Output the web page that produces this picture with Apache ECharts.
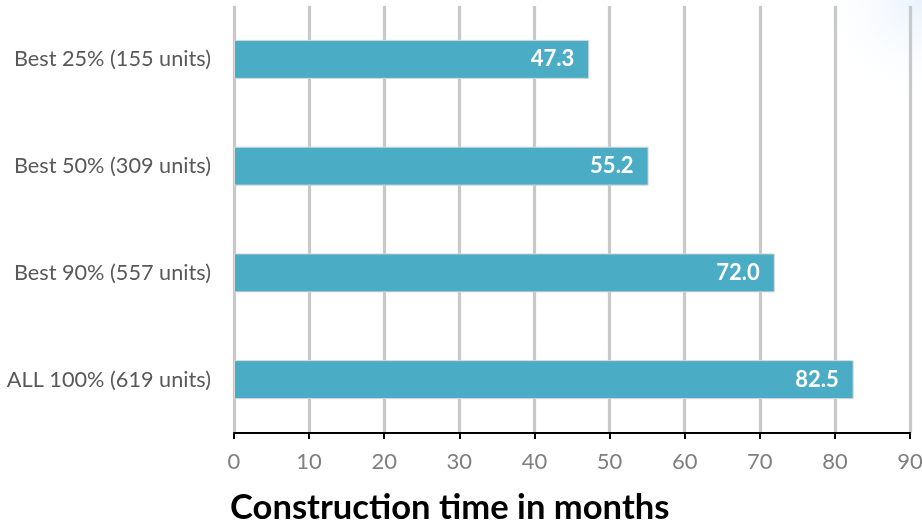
<!DOCTYPE html>
<html><head><meta charset="utf-8">
<script src="https://cdn.jsdelivr.net/npm/echarts@6/dist/echarts.min.js"></script>
<style>html,body{margin:0;padding:0;background:#fff}#c{width:922px;height:523px}</style>
</head><body><div id="c"></div>
<script>
const categories = ['Best 25% (155 units)', 'Best 50% (309 units)', 'Best 90% (557 units)', 'ALL 100% (619 units)'];
const values = [47.3, 55.2, 72.0, 82.5];
const xTicks = [0, 10, 20, 30, 40, 50, 60, 70, 80, 90];
const axisTitle = 'Construction time in months';

const chart = echarts.init(document.getElementById('c'));
const F = 'Lato, "Open Sans", sans-serif';
chart.setOption({
  animation: false,
  backgroundColor: '#ffffff',
  title: {
    text: axisTitle, left: 225, top: 485,
    textStyle: {fontFamily: F, fontSize: 34.6, fontWeight: 'bold', color: '#000'}
  },
  graphic: [{
    type: 'rect', z: -10, silent: true,
    shape: {x: 600, y: 0, width: 322, height: 110},
    style: {fill: {type: 'radial', x: 1, y: 0, r: 1, colorStops: [
      {offset: 0, color: 'rgba(228,240,252,0.85)'}, {offset: 1, color: 'rgba(255,255,255,0)'}]}}
  }],
  grid: {left: 234, right: 12, top: 6, bottom: 90, containLabel: false, outerBoundsMode: 'none'},
  xAxis: {
    type: 'value', min: xTicks[0], max: xTicks[xTicks.length - 1], interval: 10,
    axisLine: {show: true, lineStyle: {color: '#000', width: 2}},
    axisTick: {show: true, length: 6, lineStyle: {color: '#000', width: 2}},
    axisLabel: {fontFamily: F, fontSize: 22, color: '#7f7f7f', margin: 18},
    splitLine: {show: true, lineStyle: {color: '#c8c8c8', width: 3, shadowColor: 'rgba(0,0,0,0.25)', shadowBlur: 1}}
  },
  yAxis: {
    type: 'category', data: categories, inverse: true,
    axisLine: {show: false}, axisTick: {show: false},
    axisLabel: {fontFamily: F, fontSize: 21.7, color: '#595959', margin: 23}
  },
  series: [{
    type: 'bar', data: values, barWidth: 39,
    itemStyle: {color: '#4bacc6', borderColor: '#d9d9d9', borderWidth: 1},
    label: {show: true, position: 'insideRight', distance: 15,
      formatter: p => p.value.toFixed(1),
      fontFamily: F, fontSize: 22, fontWeight: 'bold', color: '#fff'}
  }]
});
</script></body></html>
